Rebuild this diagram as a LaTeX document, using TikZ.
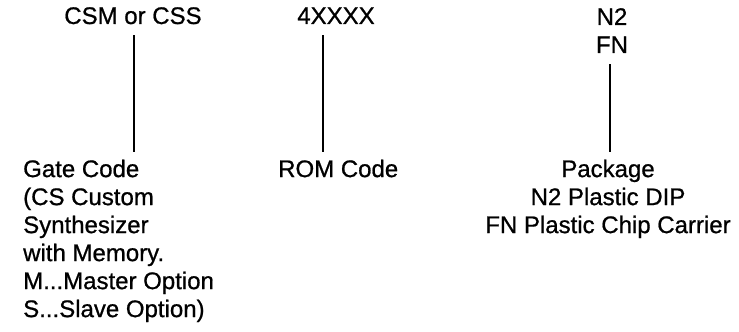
\documentclass[tikz,border=0pt]{standalone}
\usepackage{fontspec}
\setmainfont[FakeBold=0.8]{Liberation Sans}
\usepackage{tikz}
\usetikzlibrary{positioning,calc}

\begin{document}
\begin{tikzpicture}[x=1pt,y=1pt,
    lbl/.style={inner sep=0pt,font=\fontsize{24}{28}\selectfont},
    stem/.style={line width=1.6pt,shorten <=11pt,shorten >=7.5pt}]
  \useasboundingbox (0,0) rectangle (739,332);
  % top codes
  \node[lbl,anchor=base] (csm) at (133,308) {CSM or CSS};
  \node[lbl,anchor=base] (code) at (336,308) {4XXXX};
  \node[lbl,anchor=north,align=center] (pkgcode) at (612,324) {N2\\FN};
  % meanings
  \node[lbl,anchor=north west,align=left] (gate) at (23,172.5)
    {Gate Code\\(CS Custom\\Synthesizer\\with Memory.\\M...Master Option\\S...Slave Option)};
  \node[lbl,anchor=north west] (rom) at (278,172.5) {ROM Code};
  \node[lbl,anchor=north,align=center] (pkg) at (608,172.5)
    {Package\\N2 Plastic DIP\\FN Plastic Chip Carrier};
  % stems
  \draw[stem] ([xshift=1pt]csm.south) -- ([xshift=1pt]csm.south |- gate.north);
  \draw[stem] ([xshift=-13pt]code.south) -- ([xshift=-13pt]code.south |- rom.north);
  \draw[stem] ([xshift=-2pt]pkgcode.south) -- ([xshift=-2pt]pkgcode.south |- pkg.north);
\end{tikzpicture}
\end{document}
